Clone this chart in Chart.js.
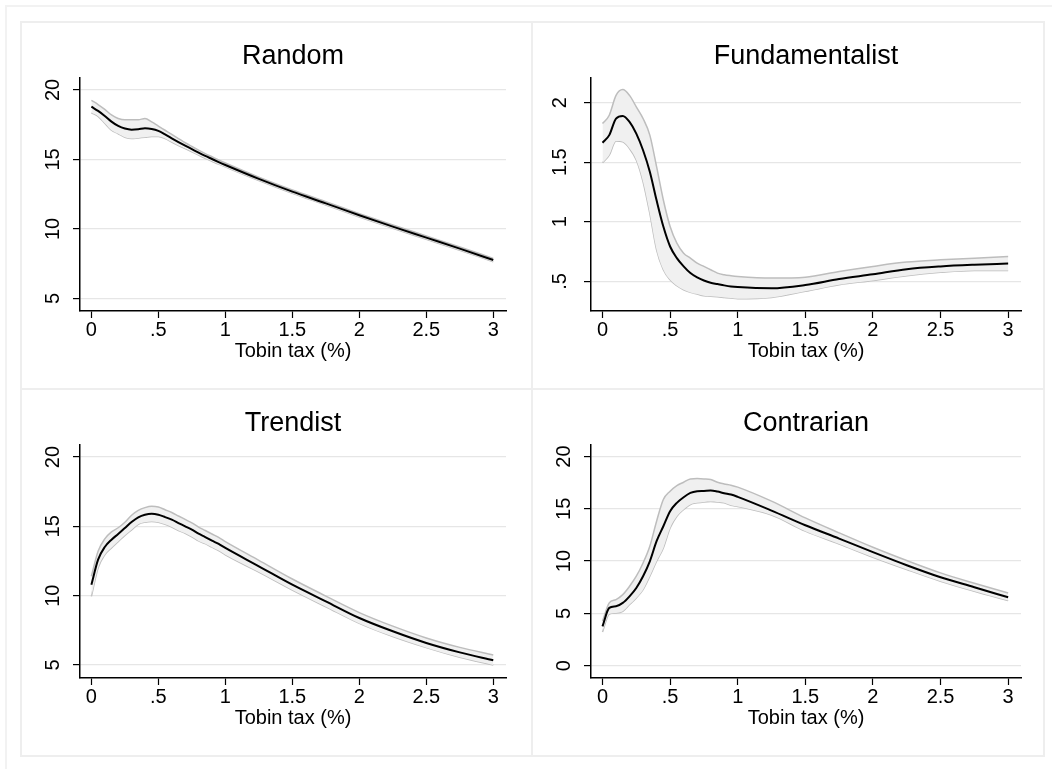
<!DOCTYPE html>
<html>
<head>
<meta charset="utf-8">
<script src="https://cdn.jsdelivr.net/npm/chart.js@4/dist/chart.umd.min.js"></script>
<style>
  body { margin: 0; background: #fff; width: 1052px; height: 769px; overflow: hidden; position: relative; }
  .outer { position: absolute; left: 5px; top: 5px; width: 1100px; height: 800px; border-left: 2px solid #f2f2f2; border-top: 2px solid #f2f2f2; }
  .frame { position: absolute; left: 20px; top: 21px; width: 1025px; height: 736px; box-sizing: border-box; border: 2px solid #eeeeee; }
  .vline { position: absolute; left: 531px; top: 21px; width: 2px; height: 736px; background: #eeeeee; }
  .hline { position: absolute; left: 20px; top: 388px; width: 1025px; height: 2px; background: #eeeeee; }
  canvas { position: absolute; }
</style>
</head>
<body>
<div class="outer"></div>
<div class="frame"></div>
<div class="vline"></div>
<div class="hline"></div>
<canvas id="random_chart" width="512" height="367" style="left:21px;top:22px"></canvas>
<canvas id="fund_chart" width="512" height="367" style="left:532px;top:22px"></canvas>
<canvas id="trend_chart" width="512" height="367" style="left:21px;top:389px"></canvas>
<canvas id="contra_chart" width="512" height="367" style="left:532px;top:389px"></canvas>
<script>
Chart.defaults.font.family = "'Liberation Sans', Arial, Helvetica, sans-serif";

const taxRates = [0, 0.05, 0.1, 0.15, 0.2, 0.25, 0.3, 0.35, 0.4, 0.45, 0.5, 0.55, 0.6, 0.65, 0.7, 0.75,
  0.8, 0.85, 0.9, 0.95, 1, 1.25, 1.5, 1.75, 2, 2.25, 2.5, 2.75, 3];
const xTicks = [0, 0.5, 1, 1.5, 2, 2.5, 3];

const randomMean = [18.8, 18.49, 18.13, 17.72, 17.41, 17.22, 17.14, 17.17, 17.24, 17.19, 17.05, 16.8, 16.52,
  16.25, 15.99, 15.74, 15.49, 15.25, 15.03, 14.81, 14.6, 13.6, 12.68, 11.84, 10.98, 10.16, 9.37, 8.58, 7.76];
const randomUpper = [19.25, 18.95, 18.6, 18.2, 17.95, 17.85, 17.85, 17.85, 17.95, 17.7, 17.4, 17.1, 16.8,
  16.5, 16.2, 15.93, 15.67, 15.42, 15.19, 14.96, 14.74, 13.72, 12.8, 11.96, 11.1, 10.28, 9.49, 8.7, 7.88];
const randomLower = [18.35, 18.1, 17.6, 17.1, 16.85, 16.6, 16.5, 16.55, 16.6, 16.65, 16.65, 16.5, 16.25,
  16.0, 15.78, 15.55, 15.31, 15.08, 14.87, 14.66, 14.46, 13.48, 12.56, 11.72, 10.86, 10.04, 9.25, 8.46, 7.64];
const randomTicks = [5, 10, 15, 20];

const fundMean = [1.663, 1.727, 1.866, 1.888, 1.838, 1.74, 1.6, 1.42, 1.18, 0.96, 0.793, 0.695, 0.626,
  0.57, 0.534, 0.508, 0.489, 0.478, 0.467, 0.458, 0.453, 0.443, 0.47, 0.52, 0.56, 0.603, 0.626, 0.64, 0.65];
const fundUpper = [1.824, 1.894, 2.06, 2.109, 2.06, 1.964, 1.866, 1.727, 1.462, 1.183, 0.96, 0.821, 0.737,
  0.695, 0.653, 0.626, 0.598, 0.57, 0.556, 0.548, 0.542, 0.528, 0.536, 0.584, 0.626, 0.662, 0.681, 0.695, 0.709];
const fundLower = [1.495, 1.56, 1.677, 1.671, 1.615, 1.518, 1.336, 1.07, 0.765, 0.598, 0.514, 0.464, 0.43,
  0.408, 0.394, 0.38, 0.375, 0.372, 0.366, 0.36, 0.355, 0.366, 0.417, 0.472, 0.508, 0.548, 0.576, 0.592, 0.592];
const fundTicks = [0.5, 1, 1.5, 2];

const trendMean = [10.79, 12.6, 13.51, 14.04, 14.45, 14.88, 15.31, 15.65, 15.84, 15.91, 15.84, 15.67, 15.48,
  15.24, 15.0, 14.76, 14.47, 14.23, 13.97, 13.73, 13.44, 12.12, 10.79, 9.59, 8.39, 7.43, 6.59, 5.91, 5.34];
const trendUpper = [11.4, 13.2, 14.1, 14.6, 14.9, 15.3, 15.8, 16.15, 16.35, 16.45, 16.4, 16.2, 16.0,
  15.75, 15.5, 15.25, 14.95, 14.7, 14.45, 14.2, 13.9, 12.55, 11.2, 9.97, 8.78, 7.8, 6.95, 6.27, 5.72];
const trendLower = [9.95, 12.0, 12.95, 13.45, 13.9, 14.35, 14.75, 15.15, 15.3, 15.35, 15.3, 15.15, 14.95,
  14.7, 14.5, 14.25, 13.95, 13.75, 13.5, 13.25, 12.95, 11.7, 10.4, 9.2, 8.0, 7.05, 6.25, 5.55, 5.0];
const trendTicks = [5, 10, 15, 20];

const contraMean = [3.76, 5.52, 5.68, 6.0, 6.63, 7.43, 8.55, 9.98, 11.9, 13.33, 14.77, 15.57, 16.11,
  16.52, 16.68, 16.71, 16.75, 16.65, 16.49, 16.36, 16.14, 14.83, 13.43, 12.15, 10.85, 9.6, 8.45, 7.5, 6.54];
const contraUpper = [4.24, 6.0, 6.32, 6.79, 7.59, 8.55, 9.82, 11.42, 13.81, 15.89, 16.68, 17.22, 17.54,
  17.86, 17.89, 17.86, 17.8, 17.54, 17.38, 17.26, 17.07, 15.73, 14.13, 12.7, 11.32, 10.05, 8.87, 7.88, 6.95];
const contraLower = [3.22, 4.94, 5.04, 5.2, 5.84, 6.48, 7.27, 8.55, 9.98, 11.26, 13.17, 14.29, 14.93,
  15.41, 15.57, 15.66, 15.69, 15.66, 15.57, 15.34, 15.22, 14.4, 12.86, 11.64, 10.37, 9.19, 8.07, 7.11, 6.22];
const contraTicks = [0, 5, 10, 15, 20];

// stata style labels: ".5" instead of "0.5"
const fmt = (v) => (v > 0 && v < 1 ? String(v).slice(1) : String(v));
const toPoints = (arr) => arr.map((y, i) => ({ x: taxRates[i], y: y }));

const panels = [
  { id: "random_chart", title: "Random", mean: randomMean, upper: randomUpper, lower: randomLower,
    ticks: randomTicks, yMin: 4.09, yMax: 20.86, right: 485, labelPad: 8 },
  { id: "fund_chart", title: "Fundamentalist", mean: fundMean, upper: fundUpper, lower: fundLower,
    ticks: fundTicks, yMin: 0.252, yMax: 2.206, right: 489, labelPad: 9.5 },
  { id: "trend_chart", title: "Trendist", mean: trendMean, upper: trendUpper, lower: trendLower,
    ticks: trendTicks, yMin: 4.06, yMax: 20.87, right: 485, labelPad: 8 },
  { id: "contra_chart", title: "Contrarian", mean: contraMean, upper: contraUpper, lower: contraLower,
    ticks: contraTicks, yMin: -1.18, yMax: 21.1, right: 489, labelPad: 8 },
];

const createChart = (p) => {
  const W = 512, H = 367, areaLeft = 59, areaBottom = 289;
  const ctx = document.getElementById(p.id).getContext("2d");

  let configuration = {
    type: "line",
    data: {
      datasets: [
        {
          label: "mean",
          data: toPoints(p.mean),
          borderColor: "#000",
          borderWidth: 2,
          pointRadius: 0,
          fill: false,
          cubicInterpolationMode: "monotone",
        },
        {
          label: "upper",
          data: toPoints(p.upper),
          borderColor: "#bdbdbd",
          borderWidth: 1.5,
          backgroundColor: "#f0f0f0",
          pointRadius: 0,
          fill: "+1",
          cubicInterpolationMode: "monotone",
        },
        {
          label: "lower",
          data: toPoints(p.lower),
          borderColor: "#bdbdbd",
          borderWidth: 1.5,
          pointRadius: 0,
          fill: false,
          cubicInterpolationMode: "monotone",
        },
      ],
    },
    options: {
      responsive: false,
      animation: false,
      layout: { padding: { left: 0, top: 0, right: W - p.right, bottom: 0 } },
      plugins: {
        legend: { display: false },
        tooltip: { enabled: false },
        title: {
          display: true,
          text: p.title,
          fullSize: false,
          color: "#000",
          font: { size: 27, weight: "normal" },
          padding: { top: 18.4, bottom: 5.2 },
        },
      },
      scales: {
        x: {
          type: "linear",
          min: -0.085,
          max: 3.095,
          afterBuildTicks: (s) => { s.ticks = xTicks.map((v) => ({ value: v })); },
          afterFit: (s) => { s.height = H - areaBottom; },
          ticks: { color: "#000", font: { size: 20 }, padding: 0, maxRotation: 0, autoSkip: false, callback: (v) => fmt(v) },
          grid: { drawOnChartArea: false, tickLength: 7, tickColor: "#000", tickWidth: 1.2 },
          border: { color: "#000", width: 1.5 },
          title: { display: true, text: "Tobin tax (%)", color: "#000", font: { size: 20 }, padding: { top: 0, bottom: 25.6 } },
        },
        y: {
          min: p.yMin,
          max: p.yMax,
          afterBuildTicks: (s) => { s.ticks = p.ticks.map((v) => ({ value: v })); },
          afterFit: (s) => { s.width = areaLeft; },
          ticks: {
            color: "#000",
            font: { size: 20 },
            padding: p.labelPad,
            minRotation: 90,
            maxRotation: 90,
            crossAlign: "center",
            callback: (v) => fmt(v),
          },
          grid: { color: "#e6e6e6", lineWidth: 1.2, tickLength: 7, tickColor: "#000", tickWidth: 1.2 },
          border: { color: "#000", width: 1.5 },
        },
      },
    },
  };

  return new Chart(ctx, configuration);
};

panels.forEach((p) => createChart(p));
</script>
</body>
</html>
